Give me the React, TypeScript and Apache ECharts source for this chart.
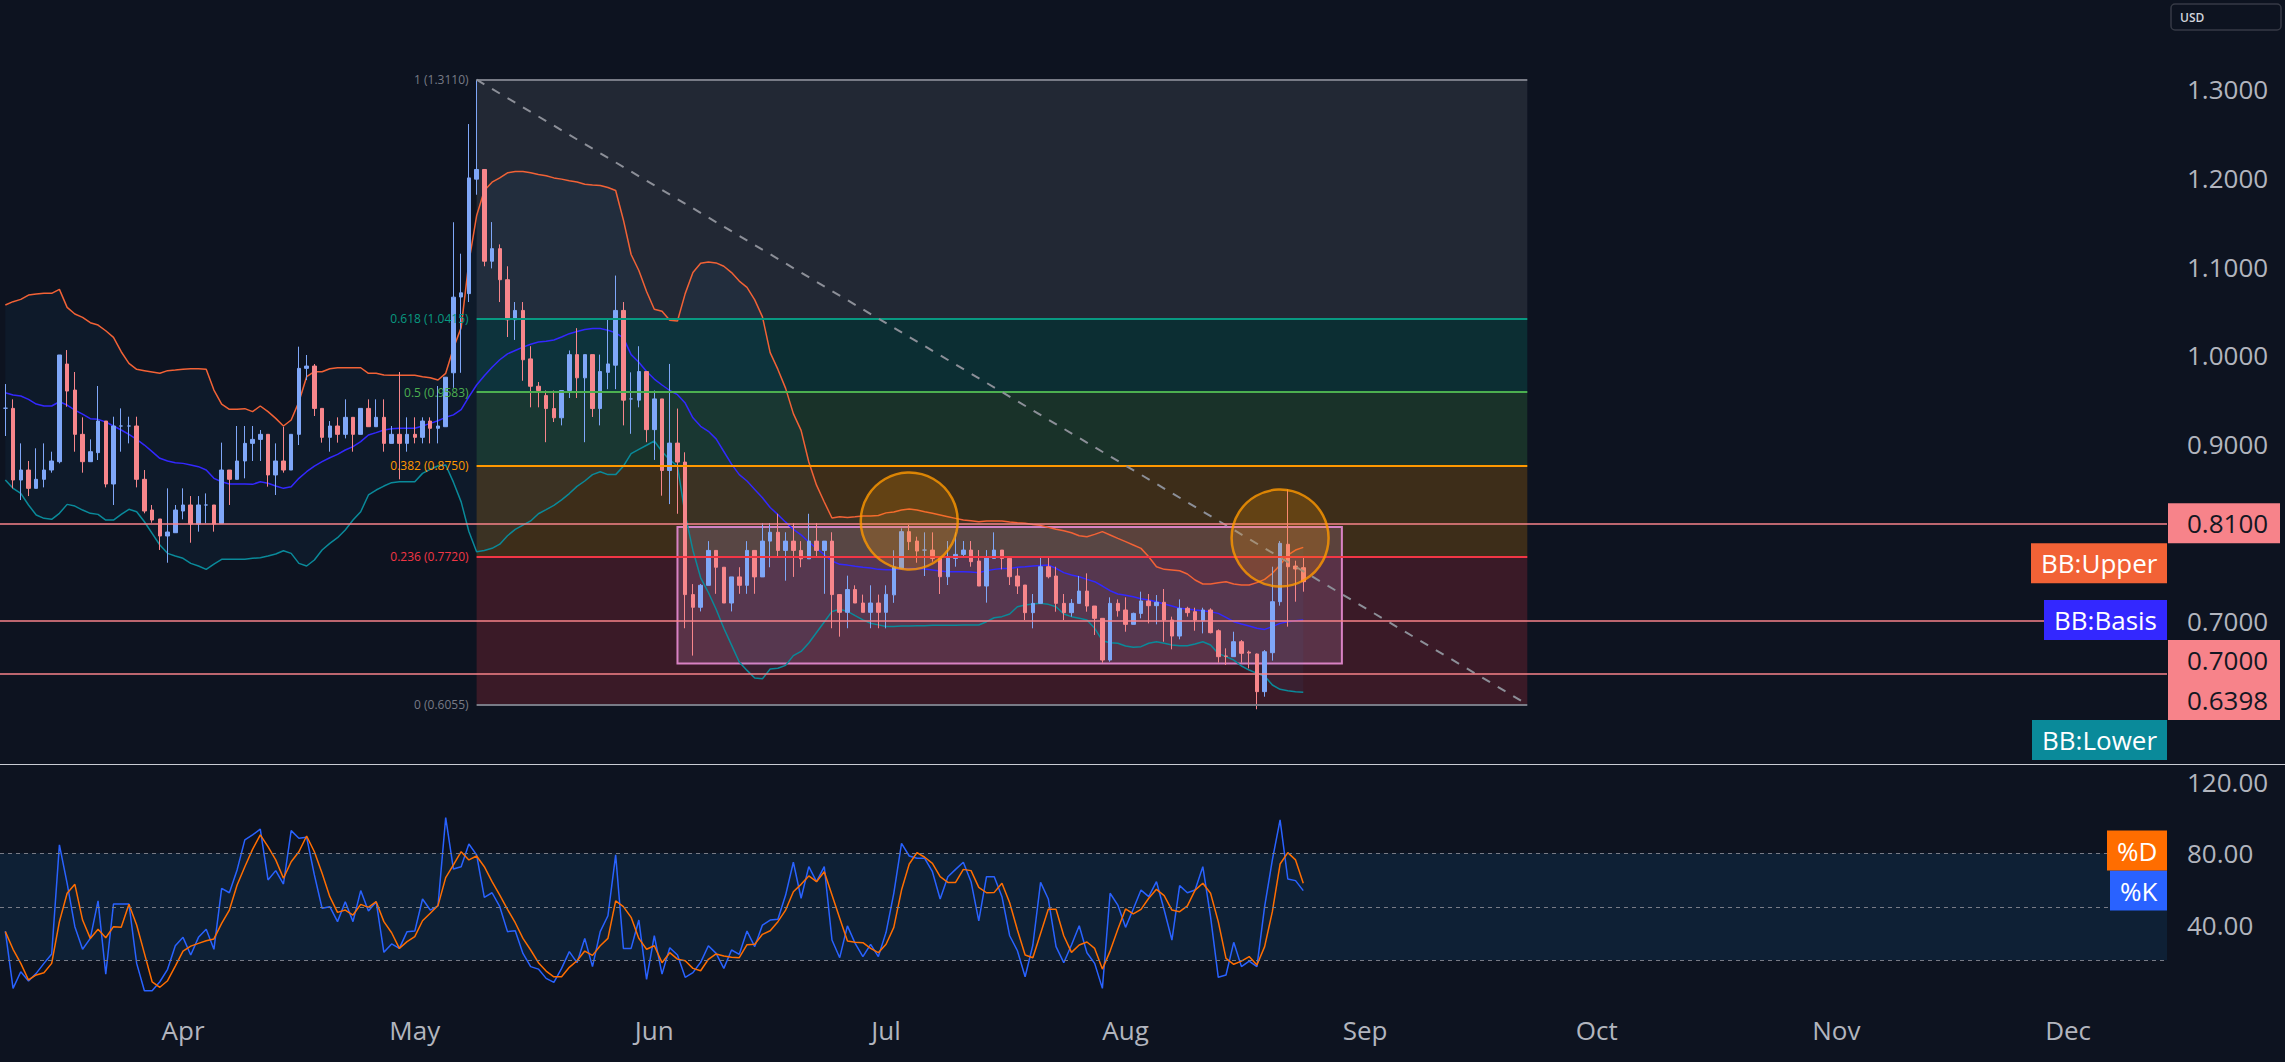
import React, { useEffect, useRef } from 'react';
import * as echarts from 'echarts';

// ---------- calendar ----------
const START_DATE = '2023-03-09';
const DAY_MS = 86400000;
const MONTH_NAMES = ['Jan', 'Feb', 'Mar', 'Apr', 'May', 'Jun', 'Jul', 'Aug', 'Sep', 'Oct', 'Nov', 'Dec'];
const MONTH_TICKS = ['2023-04-01', '2023-05-01', '2023-06-01', '2023-07-01', '2023-08-01', '2023-09-01', '2023-10-01', '2023-11-01', '2023-12-01'];

// ---------- daily candles (one per day from START_DATE) ----------
const OPEN = [
  0.9400, 0.9398, 0.8589, 0.8702, 0.8495, 0.8597, 0.8702, 0.8796, 0.9899, 0.9605,
  0.9105, 0.8796, 0.8898, 0.9255, 0.8544, 0.9199, 0.9199, 0.9199, 0.8597, 0.8250,
  0.8149, 0.7957, 0.7994, 0.8239, 0.8307, 0.8092, 0.8307, 0.8307, 0.8100, 0.8702,
  0.8597, 0.8804, 0.9003, 0.9048, 0.9105, 0.8646, 0.8804, 0.8702, 0.9105, 0.9850,
  0.9876, 0.9398, 0.9071, 0.9199, 0.9105, 0.9297, 0.9105, 0.9398, 0.9191, 0.9297,
  0.9003, 0.9105, 0.9003, 0.9105, 0.9071, 0.9255, 0.9173, 0.9191, 0.9800, 1.0656,
  1.0694, 1.1987, 1.2096, 1.1060, 1.1202, 1.0851, 1.0399, 1.0504, 0.9957, 0.9648,
  0.9543, 0.9396, 0.9292, 0.9600, 1.0005, 0.9743, 1.0005, 0.9396, 0.9805, 0.9886,
  1.0504, 0.9505, 0.9491, 0.9814, 0.9158, 0.9505, 0.8697, 0.9006, 0.8792, 0.7295,
  0.7152, 0.7400, 0.7794, 0.7604, 0.7200, 0.7495, 0.7400, 0.7794, 0.7495, 0.7899,
  0.7999, 0.7794, 0.7899, 0.7794, 0.7699, 0.7899, 0.7794, 0.7899, 0.7295, 0.7095,
  0.7352, 0.7200, 0.7095, 0.7200, 0.7095, 0.7292, 0.7592, 0.8006, 0.7900, 0.7798,
  0.7798, 0.7704, 0.7497, 0.7704, 0.7749, 0.7798, 0.7674, 0.7392, 0.7704, 0.7798,
  0.7704, 0.7505, 0.7403, 0.7091, 0.7196, 0.7610, 0.7505, 0.7196, 0.7091, 0.7196,
  0.7335, 0.7166, 0.7027, 0.6556, 0.7196, 0.7121, 0.6959, 0.7083, 0.7223, 0.7170,
  0.7208, 0.7008, 0.6827, 0.7140, 0.7102, 0.6997, 0.7121, 0.6887, 0.6601, 0.6594,
  0.6763, 0.6645, 0.6624, 0.6199, 0.6639, 0.7215, 0.7863, 0.7618, 0.7599,
];
const HIGH = [
  0.9673, 0.9500, 0.9003, 0.8804, 0.8947, 0.9003, 0.8909, 1.0001, 1.0057, 0.9809,
  0.9297, 0.9048, 0.9651, 0.9255, 0.9304, 0.9398, 0.9304, 0.9304, 0.8702, 0.8307,
  0.8149, 0.8495, 0.8307, 0.8495, 0.8408, 0.8408, 0.8438, 0.8307, 0.9011, 0.8702,
  0.9199, 0.9199, 0.9199, 0.9154, 0.9105, 0.9003, 0.9191, 0.9105, 1.0095, 1.0001,
  0.9899, 0.9398, 0.9255, 0.9297, 0.9500, 0.9297, 0.9398, 0.9500, 0.9500, 0.9500,
  0.9199, 0.9809, 0.9297, 0.9297, 0.9297, 0.9297, 0.9651, 0.9750, 1.1500, 1.1145,
  1.2609, 1.3110, 1.2096, 1.1502, 1.1250, 1.1003, 1.0599, 1.0599, 1.0100, 0.9696,
  0.9600, 0.9600, 0.9600, 1.0052, 1.0304, 1.0005, 1.0005, 1.0005, 1.0409, 1.0898,
  1.0599, 0.9805, 1.0100, 0.9814, 0.9600, 0.9505, 0.9900, 0.9396, 0.8902, 0.7414,
  0.7414, 0.7899, 0.7794, 0.7604, 0.7495, 0.7604, 0.7899, 0.7794, 0.8103, 0.8103,
  0.8208, 0.7999, 0.8103, 0.7899, 0.8208, 0.8103, 0.7899, 0.7999, 0.7295, 0.7509,
  0.7400, 0.7295, 0.7400, 0.7295, 0.7400, 0.7796, 0.8043, 0.8081, 0.7949, 0.7998,
  0.7998, 0.7704, 0.7900, 0.7998, 0.7900, 0.7900, 0.7798, 0.7798, 0.7998, 0.7798,
  0.7704, 0.7592, 0.7403, 0.7302, 0.7712, 0.7712, 0.7610, 0.7302, 0.7245, 0.7505,
  0.7535, 0.7166, 0.7027, 0.7264, 0.7241, 0.7264, 0.7091, 0.7328, 0.7302, 0.7290,
  0.7358, 0.7046, 0.7241, 0.7158, 0.7147, 0.7147, 0.7140, 0.6902, 0.6688, 0.6876,
  0.6782, 0.6662, 0.6630, 0.6669, 0.7610, 0.7900, 0.8484, 0.7678, 0.7723,
];
const LOW = [
  0.9086, 0.8495, 0.8363, 0.8408, 0.8495, 0.8506, 0.8672, 0.8777, 0.9417, 0.8909,
  0.8672, 0.8796, 0.8815, 0.8506, 0.8307, 0.8909, 0.9003, 0.8506, 0.8213, 0.8107,
  0.7799, 0.7655, 0.7994, 0.8145, 0.7881, 0.8006, 0.8100, 0.8006, 0.8100, 0.8307,
  0.8597, 0.8608, 0.8804, 0.8804, 0.8514, 0.8420, 0.8672, 0.8702, 0.8984, 0.9718,
  0.9312, 0.9011, 0.8909, 0.9011, 0.9059, 0.8909, 0.9105, 0.9191, 0.9191, 0.8909,
  0.9003, 0.8597, 0.8909, 0.9003, 0.9003, 0.9003, 0.9003, 0.9191, 0.9630, 0.9800,
  1.0599, 1.1811, 1.1003, 1.0979, 1.0599, 1.0204, 1.0171, 0.9710, 0.9410, 0.9410,
  0.9016, 0.9244, 0.9206, 0.9515, 0.9515, 0.9016, 0.9301, 0.9206, 0.9615, 0.9615,
  0.9206, 0.9111, 0.9410, 0.9016, 0.8816, 0.8412, 0.8317, 0.8208, 0.6915, 0.6606,
  0.7105, 0.7400, 0.7304, 0.7200, 0.7105, 0.7304, 0.7304, 0.7304, 0.7495, 0.7604,
  0.7709, 0.7452, 0.7495, 0.7604, 0.7699, 0.7709, 0.7304, 0.6915, 0.6820, 0.6915,
  0.7200, 0.7095, 0.6915, 0.6915, 0.6914, 0.7202, 0.7592, 0.7798, 0.7655, 0.7505,
  0.7667, 0.7302, 0.7403, 0.7610, 0.7712, 0.7610, 0.7392, 0.7204, 0.7704, 0.7580,
  0.7403, 0.7302, 0.7008, 0.6914, 0.7196, 0.7478, 0.7102, 0.7008, 0.7046, 0.7196,
  0.7102, 0.6839, 0.6526, 0.6537, 0.7046, 0.6876, 0.6959, 0.7027, 0.6970, 0.6959,
  0.6763, 0.6677, 0.6790, 0.7046, 0.6887, 0.6857, 0.6857, 0.6526, 0.6500, 0.6594,
  0.6526, 0.6462, 0.6000, 0.6142, 0.6549, 0.7170, 0.6933, 0.7215, 0.7328,
];
const CLOSE = [
  0.9400, 0.8589, 0.8702, 0.8495, 0.8597, 0.8702, 0.8804, 1.0001, 0.9594, 0.9105,
  0.8796, 0.8909, 0.9255, 0.8544, 0.9199, 0.9199, 0.9199, 0.8597, 0.8239, 0.8137,
  0.7957, 0.8002, 0.8250, 0.8307, 0.8092, 0.8307, 0.8307, 0.8092, 0.8702, 0.8597,
  0.8804, 0.9003, 0.9048, 0.9105, 0.8646, 0.8804, 0.8702, 0.9105, 0.9850, 0.9876,
  0.9398, 0.9071, 0.9199, 0.9105, 0.9297, 0.9105, 0.9398, 0.9191, 0.9297, 0.9003,
  0.9105, 0.9003, 0.9105, 0.9071, 0.9255, 0.9173, 0.9199, 0.9750, 1.0654, 1.0703,
  1.2001, 1.2096, 1.1060, 1.1202, 1.0851, 1.0399, 1.0504, 0.9947, 0.9648, 0.9600,
  0.9396, 0.9292, 0.9600, 1.0005, 0.9743, 1.0005, 0.9396, 0.9814, 0.9900, 1.0504,
  0.9491, 0.9505, 0.9814, 0.9158, 0.9505, 0.8697, 0.9006, 0.8792, 0.7295, 0.7152,
  0.7400, 0.7794, 0.7604, 0.7200, 0.7495, 0.7400, 0.7794, 0.7495, 0.7899, 0.7999,
  0.7794, 0.7899, 0.7794, 0.7699, 0.7899, 0.7794, 0.7899, 0.7295, 0.7095, 0.7352,
  0.7200, 0.7095, 0.7200, 0.7095, 0.7298, 0.7607, 0.8006, 0.7893, 0.7787, 0.7798,
  0.7704, 0.7497, 0.7712, 0.7749, 0.7798, 0.7667, 0.7392, 0.7712, 0.7798, 0.7704,
  0.7497, 0.7392, 0.7091, 0.7196, 0.7610, 0.7497, 0.7196, 0.7091, 0.7196, 0.7335,
  0.7166, 0.7027, 0.6556, 0.7196, 0.7113, 0.6959, 0.7083, 0.7223, 0.7170, 0.7208,
  0.7008, 0.6827, 0.7140, 0.7091, 0.7008, 0.7121, 0.6865, 0.6594, 0.6598, 0.6763,
  0.6632, 0.6635, 0.6199, 0.6650, 0.7215, 0.7874, 0.7610, 0.7584, 0.7441,
];

// ---------- Bollinger Bands ----------
const BB_UPPER = [
  1.0565, 1.0603, 1.0629, 1.0678, 1.0689, 1.0697, 1.0697, 1.0742, 1.0539, 1.0464,
  1.0426, 1.0366, 1.0339, 1.0275, 1.0200, 1.0038, 0.9906, 0.9839, 0.9824, 0.9809,
  0.9794, 0.9824, 0.9831, 0.9839, 0.9846, 0.9846, 0.9839, 0.9605, 0.9447, 0.9387,
  0.9387, 0.9395, 0.9361, 0.9425, 0.9361, 0.9285, 0.9199, 0.9267, 0.9473, 0.9756,
  0.9812, 0.9812, 0.9846, 0.9857, 0.9857, 0.9857, 0.9857, 0.9794, 0.9794, 0.9775,
  0.9771, 0.9771, 0.9771, 0.9771, 0.9756, 0.9745, 0.9718, 0.9794, 1.0077, 1.0310,
  1.1050, 1.1573, 1.1858, 1.1953, 1.2001, 1.2058, 1.2072, 1.2072, 1.2058, 1.2039,
  1.2025, 1.2001, 1.1987, 1.1968, 1.1954, 1.1930, 1.1920, 1.1916, 1.1892, 1.1858,
  1.1526, 1.1136, 1.0955, 1.0718, 1.0518, 1.0494, 1.0394, 1.0385, 1.0694, 1.0932,
  1.1036, 1.1050, 1.1041, 1.1003, 1.0932, 1.0836, 1.0765, 1.0623, 1.0432, 1.0028,
  0.9838, 0.9624, 0.9339, 0.9149, 0.8792, 0.8531, 0.8341, 0.8160, 0.8174, 0.8165,
  0.8174, 0.8184, 0.8184, 0.8189, 0.8218, 0.8228, 0.8250, 0.8262, 0.8250, 0.8231,
  0.8213, 0.8194, 0.8175, 0.8156, 0.8137, 0.8130, 0.8118, 0.8126, 0.8126, 0.8126,
  0.8115, 0.8107, 0.8100, 0.8088, 0.8077, 0.8054, 0.8032, 0.8017, 0.7994, 0.7960,
  0.7949, 0.7975, 0.8006, 0.7968, 0.7930, 0.7893, 0.7855, 0.7817, 0.7723, 0.7610,
  0.7580, 0.7573, 0.7565, 0.7528, 0.7460, 0.7415, 0.7415, 0.7430, 0.7441, 0.7415,
  0.7404, 0.7404, 0.7430, 0.7467, 0.7535, 0.7629, 0.7742, 0.7798, 0.7828,
];
const BB_BASIS = [
  0.9575, 0.9549, 0.9538, 0.9500, 0.9447, 0.9425, 0.9425, 0.9473, 0.9436, 0.9379,
  0.9334, 0.9282, 0.9274, 0.9244, 0.9199, 0.9154, 0.9105, 0.9048, 0.8984, 0.8909,
  0.8834, 0.8804, 0.8785, 0.8777, 0.8759, 0.8740, 0.8702, 0.8608, 0.8570, 0.8544,
  0.8544, 0.8544, 0.8540, 0.8570, 0.8552, 0.8521, 0.8495, 0.8514, 0.8608, 0.8683,
  0.8747, 0.8796, 0.8841, 0.8879, 0.8928, 0.8966, 0.9022, 0.9097, 0.9124, 0.9154,
  0.9169, 0.9173, 0.9173, 0.9173, 0.9199, 0.9229, 0.9259, 0.9297, 0.9325, 0.9385,
  0.9529, 0.9662, 0.9767, 0.9862, 0.9947, 1.0014, 1.0052, 1.0090, 1.0123, 1.0147,
  1.0157, 1.0171, 1.0204, 1.0242, 1.0266, 1.0290, 1.0299, 1.0299, 1.0280, 1.0252,
  1.0195, 1.0005, 0.9919, 0.9814, 0.9729, 0.9662, 0.9600, 0.9553, 0.9458, 0.9291,
  0.9196, 0.9139, 0.9054, 0.8911, 0.8769, 0.8650, 0.8578, 0.8483, 0.8388, 0.8279,
  0.8198, 0.8113, 0.8032, 0.7970, 0.7889, 0.7818, 0.7747, 0.7675, 0.7637, 0.7628,
  0.7614, 0.7604, 0.7595, 0.7580, 0.7577, 0.7576, 0.7587, 0.7591, 0.7591, 0.7584,
  0.7573, 0.7561, 0.7554, 0.7554, 0.7554, 0.7550, 0.7543, 0.7565, 0.7580, 0.7591,
  0.7591, 0.7603, 0.7610, 0.7618, 0.7625, 0.7629, 0.7591, 0.7543, 0.7516, 0.7497,
  0.7467, 0.7441, 0.7392, 0.7339, 0.7302, 0.7287, 0.7271, 0.7249, 0.7234, 0.7215,
  0.7189, 0.7166, 0.7140, 0.7132, 0.7121, 0.7113, 0.7102, 0.7083, 0.7038, 0.6989,
  0.6963, 0.6940, 0.6914, 0.6902, 0.6933, 0.6970, 0.6989, 0.7000, 0.7008,
];
const BB_LOWER = [
  0.8589, 0.8495, 0.8438, 0.8307, 0.8194, 0.8156, 0.8145, 0.8213, 0.8314, 0.8295,
  0.8250, 0.8213, 0.8201, 0.8137, 0.8137, 0.8201, 0.8258, 0.8231, 0.8118, 0.7987,
  0.7855, 0.7761, 0.7731, 0.7705, 0.7648, 0.7618, 0.7580, 0.7640, 0.7693, 0.7693,
  0.7693, 0.7693, 0.7705, 0.7712, 0.7731, 0.7754, 0.7791, 0.7761, 0.7648, 0.7618,
  0.7686, 0.7799, 0.7874, 0.7938, 0.8024, 0.8137, 0.8231, 0.8420, 0.8476, 0.8521,
  0.8559, 0.8570, 0.8570, 0.8570, 0.8664, 0.8710, 0.8747, 0.8759, 0.8565, 0.8342,
  0.8008, 0.7780, 0.7794, 0.7818, 0.7865, 0.7960, 0.8032, 0.8079, 0.8127, 0.8208,
  0.8255, 0.8303, 0.8365, 0.8436, 0.8517, 0.8578, 0.8650, 0.8683, 0.8650, 0.8650,
  0.8745, 0.8887, 0.8935, 0.8982, 0.9030, 0.8911, 0.8816, 0.8745, 0.8198, 0.7794,
  0.7485, 0.7319, 0.7129, 0.6915, 0.6725, 0.6534, 0.6439, 0.6354, 0.6344, 0.6454,
  0.6463, 0.6496, 0.6606, 0.6653, 0.6748, 0.6867, 0.6986, 0.7105, 0.7129, 0.7105,
  0.7057, 0.7010, 0.6972, 0.6953, 0.6934, 0.6935, 0.6940, 0.6940, 0.6944, 0.6944,
  0.6948, 0.6948, 0.6948, 0.6948, 0.6952, 0.6952, 0.6952, 0.6989, 0.7034, 0.7046,
  0.7076, 0.7158, 0.7177, 0.7189, 0.7196, 0.7185, 0.7158, 0.7076, 0.7046, 0.7027,
  0.7008, 0.6914, 0.6775, 0.6752, 0.6745, 0.6715, 0.6700, 0.6707, 0.6745, 0.6763,
  0.6745, 0.6726, 0.6718, 0.6718, 0.6737, 0.6763, 0.6726, 0.6631, 0.6594, 0.6556,
  0.6489, 0.6443, 0.6406, 0.6376, 0.6274, 0.6225, 0.6210, 0.6199, 0.6191,
];

// ---------- Stochastic ----------
const STOCH_K = [
  36.4, 4.3, 13.6, 8.4, 12.7, 18.3, 23.6, 84.7, 63.2, 38.9,
  26.2, 32.3, 53.3, 12.2, 51.6, 51.6, 51.6, 18.3, 3.0, 3.0,
  8.0, 15.0, 28.2, 32.9, 23.0, 32.9, 37.4, 26.2, 60.4, 57.9,
  70.7, 87.5, 90.3, 93.5, 65.1, 70.3, 62.8, 92.7, 88.4, 89.0,
  67.9, 49.2, 50.1, 41.7, 52.9, 41.7, 59.1, 47.7, 52.9, 24.5,
  29.2, 26.7, 36.1, 36.4, 54.4, 48.2, 50.5, 100, 71.2, 72.5,
  85.2, 79.1, 55.3, 57.9, 50.1, 36.1, 36.6, 23.9, 16.5, 15.1,
  9.9, 7.7, 15.5, 24.9, 18.7, 32.3, 16.5, 36.1, 45.0, 79.1,
  26.7, 26.7, 42.6, 9.3, 33.8, 12.3, 27.1, 23.0, 10.5, 13.1,
  18.9, 28.2, 23.9, 15.5, 25.8, 23.4, 36.4, 27.7, 39.8, 42.6,
  43.0, 56.6, 75.0, 54.8, 72.5, 64.1, 72.5, 31.4, 21.5, 39.3,
  29.5, 22.1, 29.0, 22.1, 35.7, 57.6, 85.6, 78.5, 77.2, 77.2,
  69.7, 54.4, 66.9, 71.0, 75.0, 64.1, 42.1, 66.9, 66.9, 55.7,
  33.8, 25.4, 10.8, 28.6, 63.7, 54.4, 27.7, 18.7, 28.6, 39.4,
  24.3, 18.3, 4.3, 57.6, 51.0, 38.5, 48.8, 59.4, 55.7, 64.1,
  48.2, 31.4, 61.9, 57.9, 59.4, 72.5, 44.5, 10.5, 11.8, 30.1,
  16.5, 19.6, 16.5, 50.1, 76.3, 98.7, 65.6, 64.7, 59.1,
];
const STOCH_D = [
  36.1, 26.2, 18.3, 9.0, 11.8, 13.1, 18.3, 41.7, 57.6, 62.6,
  42.6, 32.3, 37.4, 32.7, 38.9, 38.5, 51.4, 39.8, 23.9, 8.0,
  4.9, 8.6, 16.8, 25.2, 28.0, 29.5, 31.0, 32.0, 40.7, 48.2,
  62.2, 72.5, 82.2, 90.3, 83.7, 76.3, 66.0, 75.3, 80.9, 89.7,
  80.9, 68.8, 55.7, 46.9, 48.2, 45.4, 51.4, 49.7, 52.9, 41.7,
  35.5, 26.7, 30.5, 33.3, 42.2, 46.4, 50.7, 66.4, 73.5, 80.9,
  76.3, 78.5, 72.5, 64.1, 56.6, 48.6, 41.1, 32.3, 25.8, 18.7,
  14.0, 10.8, 10.8, 16.1, 19.8, 25.2, 22.8, 28.2, 32.3, 53.3,
  50.1, 44.1, 32.3, 26.2, 28.2, 18.7, 24.3, 20.7, 19.8, 15.5,
  14.2, 20.6, 23.6, 22.4, 21.7, 21.5, 28.8, 29.0, 34.6, 36.6,
  41.7, 48.2, 58.5, 62.6, 67.3, 64.1, 69.7, 56.6, 43.6, 30.8,
  30.1, 29.9, 26.7, 24.3, 29.0, 38.5, 59.4, 74.0, 80.4, 77.8,
  74.4, 66.9, 63.7, 63.7, 71.0, 70.3, 60.9, 57.9, 58.1, 63.2,
  52.3, 37.0, 23.0, 21.5, 35.1, 48.6, 48.6, 33.8, 24.5, 28.6,
  30.3, 26.7, 15.1, 25.2, 37.4, 48.8, 46.0, 48.6, 54.8, 59.8,
  56.3, 48.2, 47.3, 50.5, 59.4, 63.2, 57.6, 41.7, 21.1, 17.8,
  19.6, 22.1, 17.4, 27.7, 47.3, 74.0, 80.4, 76.3, 63.2,
];

// ---------- drawings ----------
const PRICE_LINES = [0.81, 0.7, 0.6398];
const FIB_LEVELS = [1, 0.618, 0.5, 0.382, 0.236, 0];
const FIB_PRICES = [1.311, 1.0415, 0.9583, 0.875, 0.772, 0.6055];
const FIB_START = '2023-05-09';
const FIB_END = '2023-09-22';
const BOX_START = '2023-06-04';
const BOX_END = '2023-08-29';
const BOX_PRICES = [0.8058, 0.6517];
const CIRCLE_DATES = ['2023-07-04', '2023-08-21'];
const CIRCLE_PRICES = [0.8126, 0.7934];
const PRICE_TICKS = [0.7, 0.9, 1.0, 1.1, 1.2, 1.3];
const STOCH_TICKS = [40, 80, 120];
const STOCH_BANDS = [20, 50, 80];

// ---------- layout & style ----------
const W = 2285;
const H = 1062;
const PLOT_RIGHT = 2167;
const PRICE_BOTTOM = 764;
const STOCH_TOP = 765;
const STOCH_BOTTOM = 1003;
const VIEW_DAYS = [-0.69, 279.8];
const PRICE_RANGE = [0.5382, 1.401];
const STOCH_RANGE = [-3.9, 129.5];

const BG = '#0d1320';
const FONT = '"Open Sans", "Noto Sans", sans-serif';
const AXIS_TEXT = '#b2b5be';
const UP = '#7fa7f8';
const DOWN = '#f7868b';
const BB_UPPER_COLOR = '#f26236';
const BB_BASIS_COLOR = '#3328ff';
const BB_LOWER_COLOR = '#0a8a9a';
const K_COLOR = '#2962ff';
const D_COLOR = '#ff6d00';
const PRICE_LINE_COLOR = '#f7838a';
const FIB_COLORS = ['#787b86', '#089981', '#4caf50', '#ff9800', '#f23645', '#787b86'];
const TAG_H = 40;
const TAG_FONT = `26px ${FONT}`;

function dayIndex(d: string) {
  return Math.round((Date.parse(d) - Date.parse(START_DATE)) / DAY_MS);
}
function rgba(hex: string, a: number) {
  const n = parseInt(hex.slice(1), 16);
  return `rgba(${(n >> 16) & 255},${(n >> 8) & 255},${n & 255},${a})`;
}
function pairs(arr: number[]) {
  return arr.map((v, i) => [i, v]);
}
function textWidth(text: string, font: string) {
  const ctx = document.createElement('canvas').getContext('2d');
  if (!ctx) return text.length * 14;
  ctx.font = font;
  return ctx.measureText(text).width;
}

function buildOption() {
  const fx0 = dayIndex(FIB_START);
  const fx1 = dayIndex(FIB_END);
  const bx0 = dayIndex(BOX_START);
  const bx1 = dayIndex(BOX_END);
  const candles = OPEN.map((o, i) => [i, o, CLOSE[i], LOW[i], HIGH[i]]);

  const fibZones = FIB_PRICES.slice(0, -1).map((p, k) => [
    { xAxis: fx0, yAxis: p, itemStyle: { color: rgba(FIB_COLORS[k], 0.2) } },
    { xAxis: fx1, yAxis: FIB_PRICES[k + 1] },
  ]);
  const fibLines: any[] = FIB_LEVELS.map((lvl, k) => [
    {
      coord: [fx0, FIB_PRICES[k]],
      lineStyle: { color: FIB_COLORS[k], width: 2, type: 'solid' },
      label: {
        show: true,
        position: 'start',
        distance: 8,
        formatter: `${lvl} (${FIB_PRICES[k].toFixed(4)})`,
        color: FIB_COLORS[k],
        fontSize: 12,
        fontFamily: FONT,
      },
    },
    { coord: [fx1, FIB_PRICES[k]] },
  ]);
  fibLines.push([
    { coord: [fx0, FIB_PRICES[0]], lineStyle: { color: '#8c8f98', width: 2, type: [9, 9] } },
    { coord: [fx1, FIB_PRICES[FIB_PRICES.length - 1]] },
  ]);

  const hidden = { show: false };
  const lineBase = { type: 'line', symbol: 'none', silent: true, emphasis: { disabled: true } };

  return {
    backgroundColor: BG,
    animation: false,
    textStyle: { fontFamily: FONT },
    grid: [
      { left: 0, top: 0, width: PLOT_RIGHT, height: PRICE_BOTTOM },
      { left: 0, top: STOCH_TOP, width: PLOT_RIGHT, height: STOCH_BOTTOM - STOCH_TOP },
    ],
    xAxis: [
      { type: 'value', gridIndex: 0, min: VIEW_DAYS[0], max: VIEW_DAYS[1], show: false },
      {
        type: 'value',
        gridIndex: 1,
        min: VIEW_DAYS[0],
        max: VIEW_DAYS[1],
        axisLine: hidden,
        axisTick: hidden,
        splitLine: hidden,
        axisLabel: {
          customValues: MONTH_TICKS.map(dayIndex),
          formatter: (v: number) => MONTH_NAMES[new Date(Date.parse(START_DATE) + v * DAY_MS).getUTCMonth()],
          color: AXIS_TEXT,
          fontSize: 26,
          fontFamily: FONT,
          margin: 14,
        },
      },
    ],
    yAxis: [
      {
        type: 'value',
        gridIndex: 0,
        position: 'right',
        min: PRICE_RANGE[0],
        max: PRICE_RANGE[1],
        axisLine: hidden,
        axisTick: hidden,
        splitLine: hidden,
        axisLabel: {
          customValues: PRICE_TICKS,
          formatter: (v: number) => v.toFixed(4),
          color: AXIS_TEXT,
          fontSize: 26,
          fontFamily: FONT,
          margin: 20,
        },
      },
      {
        type: 'value',
        gridIndex: 1,
        position: 'right',
        min: STOCH_RANGE[0],
        max: STOCH_RANGE[1],
        axisLine: hidden,
        axisTick: hidden,
        splitLine: hidden,
        axisLabel: {
          customValues: STOCH_TICKS,
          formatter: (v: number) => v.toFixed(2),
          color: AXIS_TEXT,
          fontSize: 26,
          fontFamily: FONT,
          margin: 20,
        },
      },
    ],
    series: [
      // fib zones
      {
        ...lineBase,
        xAxisIndex: 0,
        yAxisIndex: 0,
        data: [],
        z: 1,
        markArea: { silent: true, data: fibZones },
      },
      // BB background
      {
        type: 'custom',
        xAxisIndex: 0,
        yAxisIndex: 0,
        silent: true,
        z: 2,
        data: [[0, BB_UPPER[0]]],
        renderItem: (_p: any, api: any) => {
          const up = BB_UPPER.map((v, i) => api.coord([i, v]));
          const lo = BB_LOWER.map((v, i) => api.coord([i, v])).reverse();
          return { type: 'polygon', shape: { points: up.concat(lo) }, style: { fill: 'rgba(33,150,243,0.05)' } };
        },
      },
      { ...lineBase, name: 'BB Upper', xAxisIndex: 0, yAxisIndex: 0, z: 3, data: pairs(BB_UPPER), lineStyle: { color: BB_UPPER_COLOR, width: 1.5 } },
      { ...lineBase, name: 'BB Basis', xAxisIndex: 0, yAxisIndex: 0, z: 3, data: pairs(BB_BASIS), lineStyle: { color: BB_BASIS_COLOR, width: 1.5 } },
      { ...lineBase, name: 'BB Lower', xAxisIndex: 0, yAxisIndex: 0, z: 3, data: pairs(BB_LOWER), lineStyle: { color: BB_LOWER_COLOR, width: 1.5 } },
      // candles
      {
        type: 'candlestick',
        name: 'Price',
        xAxisIndex: 0,
        yAxisIndex: 0,
        z: 4,
        silent: true,
        barWidth: 4,
        data: candles,
        itemStyle: { color: UP, color0: DOWN, borderColor: UP, borderColor0: DOWN, borderWidth: 1 },
      },
      // fib lines, trend line, horizontal lines
      {
        ...lineBase,
        xAxisIndex: 0,
        yAxisIndex: 0,
        data: [],
        z: 5,
        markLine: { silent: true, symbol: ['none', 'none'], label: { show: false }, data: fibLines },
      },
      {
        ...lineBase,
        xAxisIndex: 0,
        yAxisIndex: 0,
        data: [],
        z: 6,
        markLine: {
          silent: true,
          symbol: ['none', 'none'],
          label: { show: false },
          lineStyle: { color: PRICE_LINE_COLOR, width: 1.5, type: 'solid' },
          data: PRICE_LINES.map((v) => ({ yAxis: v })),
        },
        markArea: {
          silent: true,
          itemStyle: { color: 'rgba(214,150,200,0.2)', borderColor: '#d982c4', borderWidth: 2 },
          data: [[{ xAxis: bx0, yAxis: BOX_PRICES[0] }, { xAxis: bx1, yAxis: BOX_PRICES[1] }]],
        },
      },
      // circles
      {
        type: 'scatter',
        xAxisIndex: 0,
        yAxisIndex: 0,
        z: 7,
        silent: true,
        symbol: 'circle',
        symbolSize: 97,
        data: CIRCLE_DATES.map((d, k) => [dayIndex(d), CIRCLE_PRICES[k]]),
        itemStyle: { color: 'rgba(255,152,0,0.25)', borderColor: '#ff9800', borderWidth: 2.5 },
      },
      // stochastic band
      {
        ...lineBase,
        xAxisIndex: 1,
        yAxisIndex: 1,
        data: [],
        z: 1,
        markArea: {
          silent: true,
          itemStyle: { color: 'rgba(33,150,243,0.1)' },
          data: [[{ yAxis: STOCH_BANDS[0] }, { yAxis: STOCH_BANDS[2] }]],
        },
        markLine: {
          silent: true,
          symbol: ['none', 'none'],
          label: { show: false },
          lineStyle: { color: '#787b86', width: 1, type: [4, 4] },
          data: STOCH_BANDS.map((v) => ({ yAxis: v })),
        },
      },
      { ...lineBase, name: '%K', xAxisIndex: 1, yAxisIndex: 1, z: 3, data: pairs(STOCH_K), lineStyle: { color: K_COLOR, width: 1.5 } },
      { ...lineBase, name: '%D', xAxisIndex: 1, yAxisIndex: 1, z: 4, data: pairs(STOCH_D), lineStyle: { color: D_COLOR, width: 1.5 } },
    ],
  };
}

type Tag = { text: string; value: number; kind: 'axis' | 'study'; bg: string; fg: string; y?: number; top?: number };

function buildGraphics(chart: any) {
  const last = OPEN.length - 1;
  const priceTags: Tag[] = [
    ...PRICE_LINES.map((v) => ({ text: v.toFixed(4), value: v, kind: 'axis' as const, bg: PRICE_LINE_COLOR, fg: '#131722' })),
    { text: 'BB:Upper', value: BB_UPPER[last], kind: 'study', bg: BB_UPPER_COLOR, fg: '#ffffff' },
    { text: 'BB:Basis', value: BB_BASIS[last], kind: 'study', bg: BB_BASIS_COLOR, fg: '#ffffff' },
    { text: 'BB:Lower', value: BB_LOWER[last], kind: 'study', bg: BB_LOWER_COLOR, fg: '#ffffff' },
  ];
  priceTags.forEach((t) => (t.y = chart.convertToPixel({ yAxisIndex: 0 }, t.value)));
  priceTags.sort((a, b) => (a.y as number) - (b.y as number));
  let bottom = -Infinity;
  priceTags.forEach((t) => {
    let top = (t.y as number) - TAG_H / 2;
    if (top < bottom) top = bottom;
    t.top = top;
    bottom = top + TAG_H;
  });

  const stochTags: Tag[] = [
    { text: '%K', value: STOCH_K[last], kind: 'study', bg: K_COLOR, fg: '#ffffff' },
    { text: '%D', value: STOCH_D[last], kind: 'study', bg: D_COLOR, fg: '#ffffff' },
  ];
  stochTags.forEach((t) => (t.y = chart.convertToPixel({ yAxisIndex: 1 }, t.value)));
  stochTags.sort((a, b) => (b.y as number) - (a.y as number));
  let topLimit = Infinity;
  stochTags.forEach((t) => {
    let top = (t.y as number) - TAG_H / 2;
    if (top + TAG_H > topLimit) top = topLimit - TAG_H;
    t.top = top;
    topLimit = top;
  });

  const els: any[] = [];
  [...priceTags, ...stochTags].forEach((t) => {
    const top = t.top as number;
    if (t.kind === 'axis') {
      els.push({ type: 'rect', z: 100, shape: { x: PLOT_RIGHT + 1, y: top, width: 112, height: TAG_H }, style: { fill: t.bg } });
      els.push({ type: 'text', z: 101, x: PLOT_RIGHT + 20, y: top + TAG_H / 2, style: { text: t.text, fill: t.fg, font: TAG_FONT, textVerticalAlign: 'middle' } });
    } else {
      const w = Math.round(textWidth(t.text, TAG_FONT)) + 20;
      els.push({ type: 'rect', z: 100, shape: { x: PLOT_RIGHT - w, y: top, width: w, height: TAG_H }, style: { fill: t.bg } });
      els.push({ type: 'text', z: 101, x: PLOT_RIGHT - w + 10, y: top + TAG_H / 2, style: { text: t.text, fill: t.fg, font: TAG_FONT, textVerticalAlign: 'middle' } });
    }
  });

  // pane separator
  els.push({ type: 'line', z: 90, shape: { x1: 0, y1: PRICE_BOTTOM + 0.5, x2: W, y2: PRICE_BOTTOM + 0.5 }, style: { stroke: '#c9ccd4', lineWidth: 1 } });
  // currency box
  els.push({ type: 'rect', z: 100, shape: { x: 2171, y: 4, width: 110, height: 26, r: 4 }, style: { fill: BG, stroke: '#363a45', lineWidth: 1.5 } });
  els.push({ type: 'text', z: 101, x: 2180, y: 17, style: { text: 'USD', fill: '#d1d4dc', font: `600 12px ${FONT}`, textVerticalAlign: 'middle' } });
  return els;
}

export default function App() {
  const ref = useRef<HTMLDivElement>(null);
  useEffect(() => {
    document.body.style.margin = '0';
    const el = ref.current as HTMLDivElement;
    const chart = echarts.init(el, undefined, { renderer: 'svg', width: W, height: H });
    chart.setOption(buildOption() as any);
    chart.setOption({ graphic: buildGraphics(chart) } as any);
    return () => chart.dispose();
  }, []);
  return <div ref={ref} style={{ position: 'fixed', left: 0, top: 0, width: W, height: H, background: BG }} />;
}
